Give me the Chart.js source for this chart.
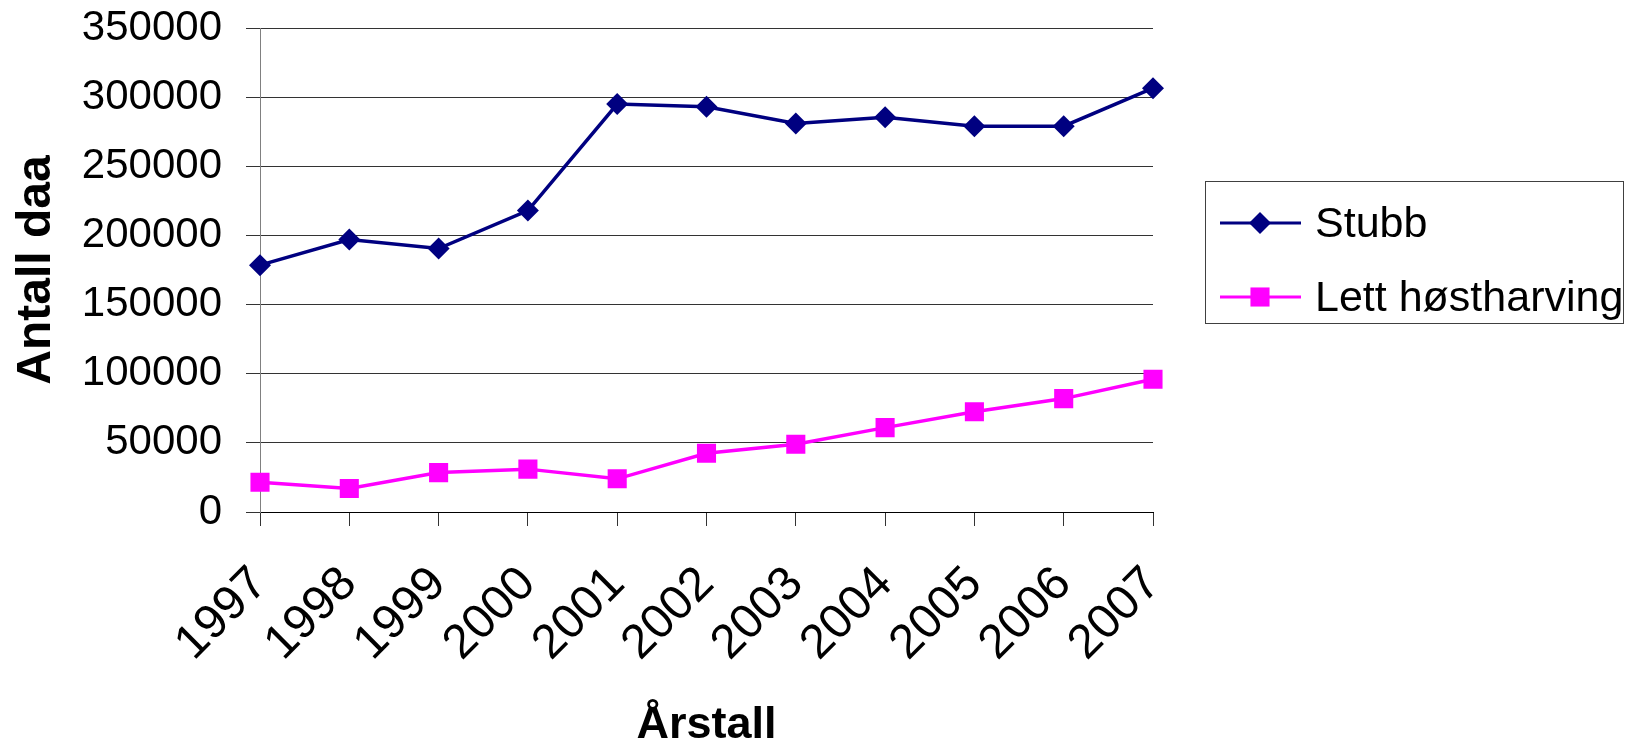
<!DOCTYPE html>
<html lang="no">
<head>
<meta charset="utf-8">
<title>Antall daa</title>
<script src="https://cdn.jsdelivr.net/npm/chart.js@4/dist/chart.umd.min.js"></script>
<style>
  html, body { margin: 0; padding: 0; background: #fff; }
  #wrap { width: 1625px; height: 748px; }
</style>
</head>
<body>
<div id="wrap"><canvas id="chart"></canvas></div>
<script>
// === Data ===
const years = ["1997", "1998", "1999", "2000", "2001", "2002", "2003", "2004", "2005", "2006", "2007"];
const stubb = [178500, 197000, 190500, 218000, 295000, 293000, 281000, 285500, 279000, 279000, 306500];
const lettHostharving = [21500, 17000, 28500, 31000, 24000, 42500, 49000, 61000, 72500, 82000, 96000];
const yTicks = [0, 50000, 100000, 150000, 200000, 250000, 300000, 350000];

const FONT = "'Liberation Sans', Arial, Helvetica, sans-serif";

// === Legende med ramme (tegnet på canvas) ===
const boxLegend = {
  id: "boxLegend",
  afterDraw(chart) {
    const ctx = chart.ctx;
    const box = { x: 1205, y: 181, w: 418, h: 142 };
    ctx.save();
    ctx.strokeStyle = "#404040";
    ctx.lineWidth = 1;
    ctx.strokeRect(box.x + 0.5, box.y + 0.5, box.w, box.h);

    chart.data.datasets.forEach((ds, i) => {
      const cy = 223 + i * 74;
      ctx.strokeStyle = ds.borderColor;
      ctx.lineWidth = 3;
      ctx.beginPath();
      ctx.moveTo(1220, cy);
      ctx.lineTo(1301, cy);
      ctx.stroke();
      ctx.fillStyle = ds.pointBackgroundColor;
      Chart.helpers.drawPoint(ctx, {
        pointStyle: ds.pointStyle,
        radius: ds.pointRadius,
        borderWidth: 0
      }, 1260, cy);
      ctx.fillStyle = "#000";
      ctx.font = "43px " + FONT;
      ctx.textAlign = "left";
      ctx.textBaseline = "middle";
      ctx.fillText(ds.label, 1315, cy + 2);
    });
    ctx.restore();
  }
};

document.addEventListener("DOMContentLoaded", function () {
  const ctx = document.getElementById("chart").getContext("2d");

  new Chart(ctx, {
    type: "line",
    data: {
      labels: years,
      datasets: [
        {
          label: "Stubb",
          data: stubb,
          borderColor: "#000080",
          backgroundColor: "#000080",
          pointBackgroundColor: "#000080",
          pointBorderWidth: 0,
          borderWidth: 3.5,
          pointStyle: "rectRot",
          pointRadius: 11,
          tension: 0
        },
        {
          label: "Lett høstharving",
          data: lettHostharving,
          borderColor: "#FF00FF",
          backgroundColor: "#FF00FF",
          pointBackgroundColor: "#FF00FF",
          pointBorderWidth: 0,
          borderWidth: 3.5,
          pointStyle: "rect",
          pointRadius: 13.5,
          tension: 0
        }
      ]
    },
    options: {
      responsive: true,
      maintainAspectRatio: false,
      animation: false,
      layout: { padding: { top: 28, right: 472, bottom: 0, left: 0 } },
      plugins: {
        legend: { display: false },
        tooltip: { enabled: false }
      },
      scales: {
        x: {
          offset: false,
          afterFit(scale) {
            scale.height = 236;
            scale.paddingLeft = 0;
            scale.paddingRight = 0;
          },
          grid: {
            drawOnChartArea: false,
            tickLength: 14,
            color: "#333"
          },
          border: { color: "#000", width: 1 },
          ticks: {
            color: "#000",
            font: { family: FONT, size: 48 },
            maxRotation: 45,
            minRotation: 45,
            padding: 30,
            autoSkip: false
          },
          title: {
            display: true,
            text: "Årstall",
            color: "#000",
            font: { family: FONT, size: 45, weight: "bold", lineHeight: 1 },
            padding: { top: 0, bottom: 0 }
          }
        },
        y: {
          min: 0,
          max: 350000,
          afterFit(scale) {
            scale.width = 260;
            scale.paddingTop = 0;
            scale.paddingBottom = 0;
          },
          afterBuildTicks(scale) {
            scale.ticks = yTicks.map(v => ({ value: v }));
          },
          grid: {
            color: "#333",
            tickLength: 14,
            lineWidth: 1
          },
          border: { color: "#808080", width: 1 },
          ticks: {
            color: "#000",
            font: { family: FONT, size: 42 },
            padding: 24,
            callback: v => String(v)
          },
          title: {
            display: true,
            text: "Antall daa",
            color: "#000",
            font: { family: FONT, size: 48, weight: "bold" },
            padding: { top: 8, bottom: 0 }
          }
        }
      }
    },
    plugins: [boxLegend]
  });
});
</script>
</body>
</html>
